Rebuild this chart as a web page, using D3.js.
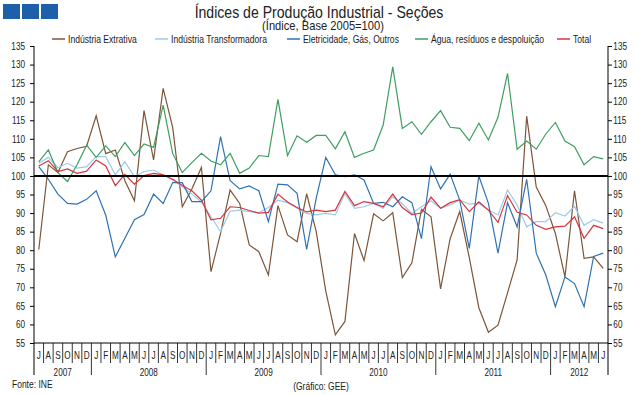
<!DOCTYPE html>
<html>
<head>
<meta charset="utf-8">
<script src="https://cdn.jsdelivr.net/npm/d3@7"></script>
<style>
body { margin: 0; background: #fff; }
svg { font-family: "Liberation Sans", Arial, sans-serif; }
</style>
</head>
<body>
<svg id="chart" width="642" height="395"></svg>
<script>
/*globals d3 */

// Months from Jul 2007 to Jun 2012.
var months = ["J", "A", "S", "O", "N", "D",
    "J", "F", "M", "A", "M", "J", "J", "A", "S", "O", "N", "D",
    "J", "F", "M", "A", "M", "J", "J", "A", "S", "O", "N", "D",
    "J", "F", "M", "A", "M", "J", "J", "A", "S", "O", "N", "D",
    "J", "F", "M", "A", "M", "J", "J", "A", "S", "O", "N", "D",
    "J", "F", "M", "A", "M", "J"];
var years = ["2007", "2008", "2009", "2010", "2011", "2012"];
var yTicks = [55, 60, 65, 70, 75, 80, 85, 90, 95, 100, 105, 110, 115, 120, 125, 130, 135];

var names = ["Indústria Extrativa", "Indústria Transformadora", "Eletricidade, Gás, Outros",
    "Água, resíduos e despoluição", "Total"];

var extrativa = [80.2, 103, 100.9, 106.5, 107.4, 108, 116.2, 106, 107, 98.7, 93.3, 117.6,
    104.3, 123.6, 113, 91.7, 96.5, 102.3, 74.2, 84.5, 96.2, 92.6, 81.4, 79.6,
    73.3, 92, 84.1, 82.3, 95.2, 85, 69, 57.2, 60.8, 84.5, 77.2, 89.8,
    87.9, 90.1, 72.6, 76.6, 91, 89, 69.6, 83.1, 90.4, 78, 64.5, 57.9,
    59.8, 68.5, 77.4, 116.1, 97, 92, 84.5, 72.8, 96, 77.8, 78.2, 75.1];
var transformadora = [103.4, 105, 102.2, 103.4, 102.1, 102.5, 105.2, 105.2, 100.3, 103.8, 99.8, 101.2,
    101.6, 100.3, 98.9, 97.1, 95.1, 93, 89, 85, 90.5, 90.8, 90.4, 90.1,
    91.5, 93.5, 92.8, 91.3, 89.9, 89.5, 89.9, 89.5, 95.3, 91.3, 91.7, 92.6,
    91.3, 94.4, 92.5, 89.9, 91.7, 93.3, 91.3, 92.2, 93.5, 92.4, 92.6, 90.8,
    89.5, 96.2, 92.2, 86.3, 87.7, 87.7, 90.1, 89.2, 91.8, 86.7, 88.2, 87.3];
var eletricidade = [102.5, 99.1, 95.1, 92.6, 92.4, 93.7, 96, 89.4, 78.2, 83.2, 88.2, 89.6,
    95.1, 92.6, 98.2, 98.2, 93.1, 93.1, 96, 110.6, 98.7, 96.5, 97.3, 96,
    87.7, 97.8, 97.6, 95.3, 80.2, 94, 105, 100.3, 99.8, 100.3, 98.9, 92.6,
    92.9, 91.7, 94.4, 92.8, 83.1, 102.5, 96.5, 100.5, 93.5, 80.5, 100, 92.6,
    79.2, 92.8, 86.3, 99.1, 79.2, 73.3, 64.8, 72.8, 71, 64.8, 78.3, 79.2];
var agua = [103.8, 107, 100.9, 98.5, 103, 108.3, 105, 108.1, 105.2, 109, 105.5, 108.6,
    107.7, 119.1, 106, 100.9, 103.6, 106.1, 104, 103, 106.1, 100.7, 102.1, 105.5,
    105.2, 120.6, 105.5, 110.8, 109.1, 110.9, 110.9, 107.3, 111.9, 105, 106.1, 107,
    113.7, 129.4, 112.8, 114.6, 111.2, 114.6, 117.6, 113.1, 112.8, 109.5, 114.2, 109.7,
    115.8, 127.6, 107.2, 109.4, 107.2, 111.3, 114.4, 109.4, 107.9, 103, 105.2, 104.6];
var total = [102.7, 104.1, 101.2, 101.9, 100.7, 101.3, 104.3, 102.7, 97.4, 100.4, 97.8, 100.1,
    100.7, 100.3, 99.1, 97.4, 96, 93.5, 88.2, 88.6, 91.7, 91.5, 90.7, 90,
    90.2, 95.1, 93, 91.5, 90.3, 90.8, 90.4, 90.8, 95.8, 92, 93.1, 92.6,
    91.7, 95.1, 91.5, 89.6, 90, 94.3, 91.3, 92.8, 93.6, 90.4, 93, 90.8,
    87.5, 94.7, 90.2, 89.5, 86.7, 85.6, 86.3, 86.5, 89, 83.2, 86.7, 85.8];

var series = [extrativa, transformadora, eletricidade, agua, total];
var colors = ["#7d5538", "#9ccbe8", "#2f73b3", "#3f9e62", "#d8343e"];
var legendX = [52, 155, 287, 415, 557];

// Narrow text: the original uses a condensed face, so squeeze a normal one.
function label(parent, x, y, str, size, anchor, squeeze) {
    return parent.append("text")
        .attr("transform", "translate(" + x + "," + y + ") scale(" + squeeze + ",1)")
        .attr("dy", "0.35em")
        .attr("text-anchor", anchor)
        .style("font-size", size + "px")
        .style("fill", "#222")
        .text(str);
}

(function () {
    "use strict";

    var svg = d3.select("#chart"),
        left = 34,
        right = 608,
        top = 46,
        bottom = 343,
        x,
        y,
        half,
        line,
        yearStarts = [],
        legend;

    x = d3.scaleBand().domain(d3.range(months.length)).range([left, right]);
    y = d3.scaleLinear().domain([55, 135]).range([bottom, top]);
    half = x.bandwidth() / 2;

    // Header boxes.
    svg.selectAll("rect.logo")
        .data([0, 1, 2])
        .enter()
        .append("rect")
        .attr("x", function (d) { return 3 + d * 19; })
        .attr("y", 4)
        .attr("width", 17)
        .attr("height", 15)
        .attr("fill", "#1d5fa8");

    label(svg, 319, 12, "Índices de Produção Industrial - Seções", 16, "middle", 0.88);
    label(svg, 323, 26, "(Índice, Base 2005=100)", 12, "middle", 0.93);

    // Legend.
    legend = svg.selectAll("g.legend")
        .data(names)
        .enter()
        .append("g")
        .attr("transform", function (d, i) { return "translate(" + legendX[i] + ",39)"; });
    legend.append("line")
        .attr("x1", 0).attr("x2", 13)
        .attr("stroke", function (d, i) { return colors[i]; })
        .attr("stroke-width", 1.5);
    legend.each(function (d) {
        label(d3.select(this), 16, 0, d, 10, "start", 0.86);
    });

    // Y axes on both sides.
    [["left", d3.axisLeft, left], ["right", d3.axisRight, right]].forEach(function (a) {
        var g = svg.append("g")
            .attr("transform", "translate(" + a[2] + ",0)")
            .call(a[1](y).tickValues(yTicks).tickSize(4).tickSizeOuter(0));
        g.select(".domain").remove();
        g.selectAll("line").attr("stroke", "#000");
        g.selectAll("text")
            .style("font-size", "10px")
            .style("fill", "#222")
            .attr("x", a[0] === "left" ? -11 : 6.5)
            .attr("transform", "scale(0.82,1)");
        svg.append("line")
            .attr("x1", a[2]).attr("x2", a[2])
            .attr("y1", top).attr("y2", 375)
            .attr("stroke", "#000");
    });

    // Bottom axis: months, then years.
    svg.append("line")
        .attr("x1", left).attr("x2", right)
        .attr("y1", bottom).attr("y2", bottom)
        .attr("stroke", "#000");

    months.forEach(function (m, i) {
        label(svg, x(i) + half, 355, m, 10, "middle", 0.82);
        if (i === 0 || (m === "J" && months[i - 1] === "D")) {
            yearStarts.push(i);
        }
    });

    svg.selectAll("line.sep")
        .data(d3.range(1, months.length))
        .enter()
        .append("line")
        .attr("x1", function (i) { return x(i); })
        .attr("x2", function (i) { return x(i); })
        .attr("y1", bottom)
        .attr("y2", function (i) { return yearStarts.indexOf(i) >= 0 ? 375 : 363; })
        .attr("stroke", "#000")
        .attr("stroke-width", 0.8);

    years.forEach(function (yr, i) {
        var s = yearStarts[i],
            e = i + 1 < yearStarts.length ? yearStarts[i + 1] : months.length;
        label(svg, (x(s) + x(e - 1) + x.bandwidth()) / 2, 372, yr, 10, "middle", 0.82);
    });

    // Series lines.
    line = d3.line()
        .x(function (d, i) { return x(i) + half; })
        .y(function (d) { return y(d); });

    svg.selectAll("path.series")
        .data(series)
        .enter()
        .append("path")
        .attr("d", line)
        .attr("fill", "none")
        .attr("stroke", function (d, i) { return colors[i]; })
        .attr("stroke-width", 1.2);

    // Base 100 reference.
    svg.append("line")
        .attr("x1", left).attr("x2", right)
        .attr("y1", y(100)).attr("y2", y(100))
        .attr("stroke", "#000")
        .attr("stroke-width", 2);

    label(svg, 12, 384, "Fonte: INE", 10, "start", 0.85);
    label(svg, 321, 386, "(Gráfico: GEE)", 10, "middle", 0.85);
}());
</script>
</body>
</html>
